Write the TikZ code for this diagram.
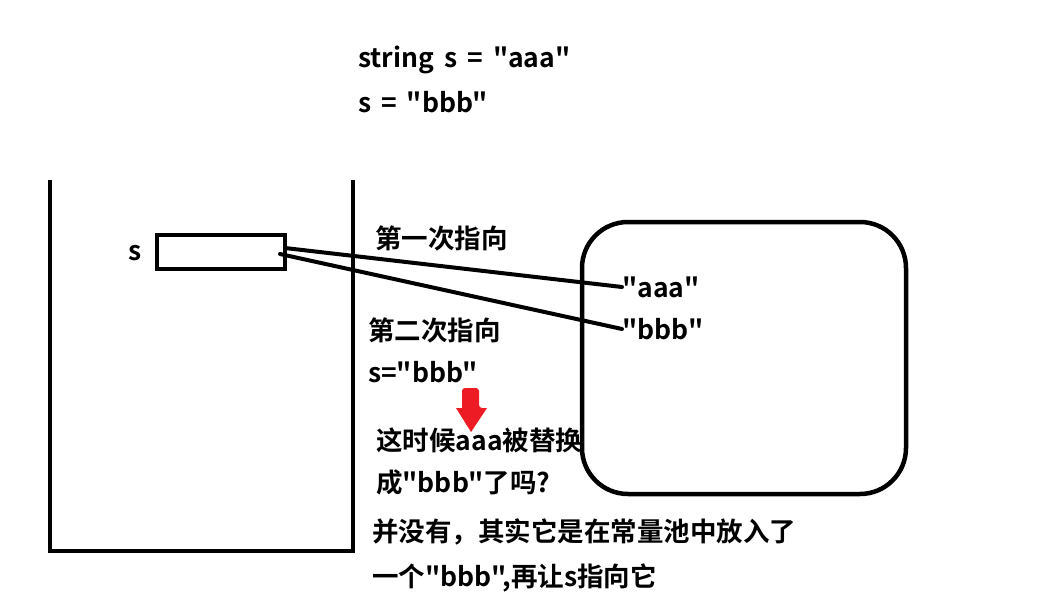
\documentclass[tikz,border=0pt]{standalone}
\usepackage{fontspec}
\setmainfont{Noto Sans CJK SC}[BoldFont={* Bold}]
\newfontfamily\cjk{Noto Sans CJK SC}[BoldFont={* Bold}]
\definecolor{arrowred}{RGB}{237,28,36}
\tikzset{
  txt/.style={anchor=west,inner sep=0pt,font=\cjk\bfseries\fontsize{26.5}{30}\selectfont},
  thick4/.style={line width=4.5pt},
  ptr/.style={line width=4pt,line cap=round},
}
\begin{document}
\begin{tikzpicture}[x=1pt,y=-1pt]
\useasboundingbox (0,0) rectangle (1042,615);
% stack
\draw[thick4] (50,180) -- (50,551) -- (353,551) -- (353,180);
\node[draw,line width=3.5pt,minimum width=128pt,minimum height=34pt,inner sep=0pt] (box) at (221,252) {};
\node[txt] (slab) at (128,253) {s};
% pool
\draw[thick4,rounded corners=46pt] (582,222) rectangle (906,494);
% texts
\node[txt] (t1) at (358,60) {\spaceskip=10pt string s = "aaa"};
\node[txt] (t2) at (358,102) {\spaceskip=10pt s = "bbb"};
\node[txt] (c1) at (375,238) {第一次指向};
\node[txt] (aaa) at (622,287) {"aaa"};
\node[txt] (bbb) at (622,329) {"bbb"};
\node[txt] (c2) at (368,330) {第二次指向};
\node[txt] (c3) at (368,372) {s="bbb"};
\node[txt] (q1) at (376,440) {这时候aaa被替换};
\node[txt] (q2) at (376,482) {成"bbb"了吗?};
\node[txt] (a1) at (372,532) {并没有，其实它是在常量池中放入了};
\node[txt] (a2) at (372,578) {一个"bbb",再让s指向它};
% pointers
\coordinate (p1) at (285,248);
\coordinate (p2) at (280,254);
\draw[ptr] (p1) -- (aaa.west);
\draw[ptr] (p2) -- (bbb.west);
% red arrow
\fill[arrowred,rounded corners=3pt] (462,408) -- (462,388) -- (479,388) -- (479,408) [sharp corners] -- (487,408) -- (471,432) -- (456,408) -- cycle;
\end{tikzpicture}
\end{document}
